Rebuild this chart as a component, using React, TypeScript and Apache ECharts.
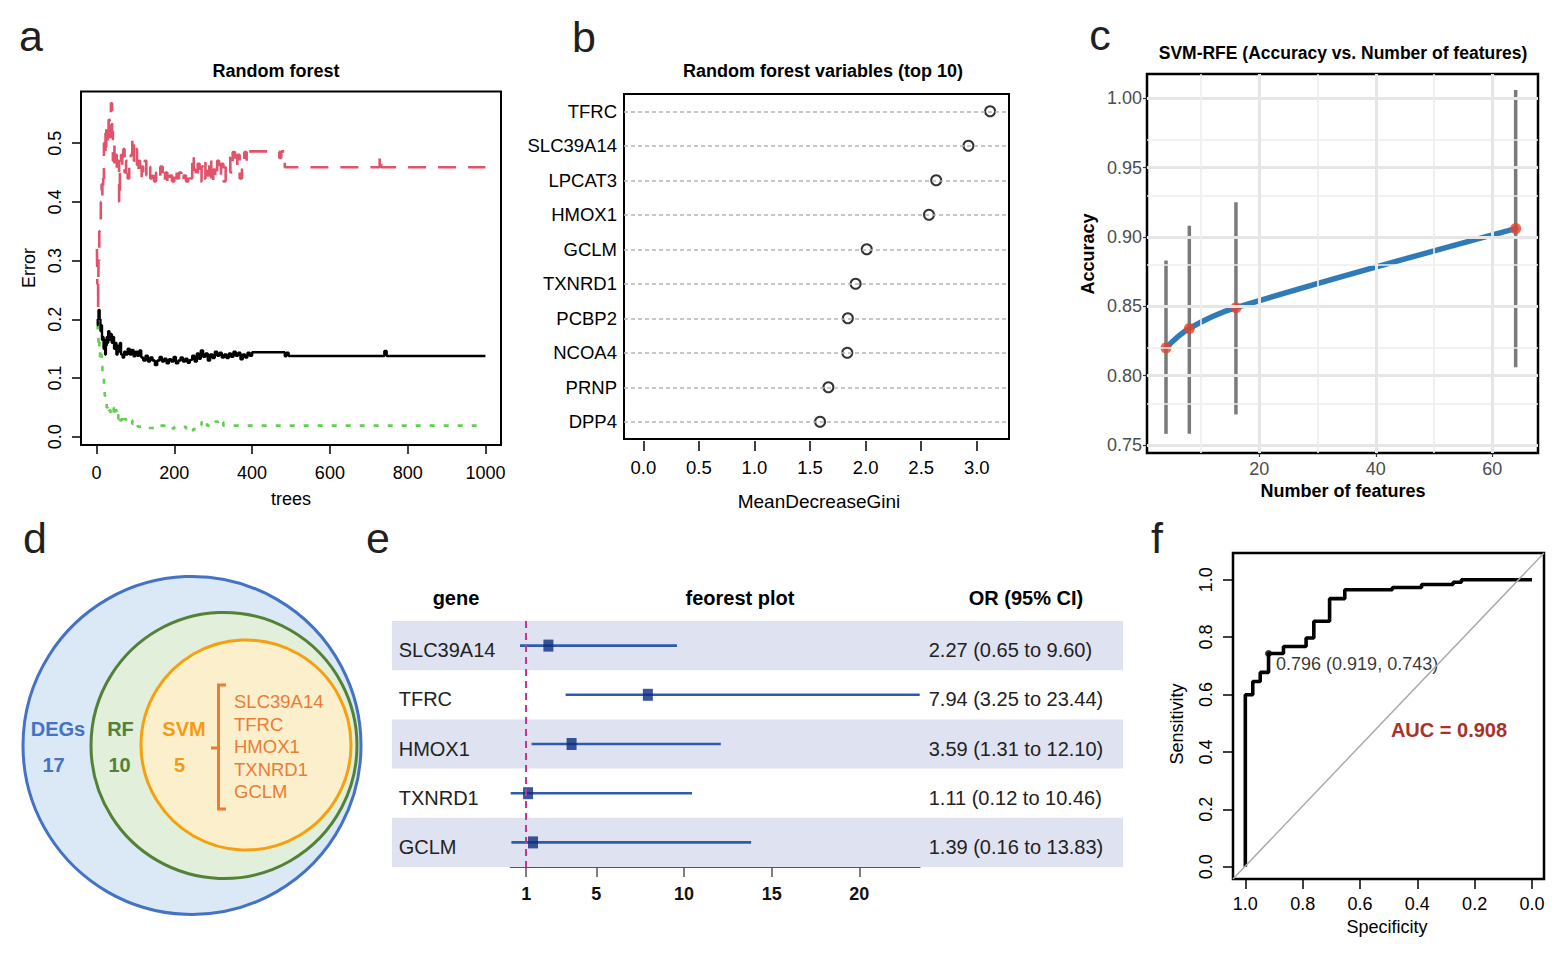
import React, { useEffect, useRef } from "react";
import * as echarts from "echarts";

const FONT = "'Liberation Sans', Arial, Helvetica, sans-serif";

// ---------- a: random forest error vs number of trees (change points [trees, error]) ----------
const treeTicks = [0, 200, 400, 600, 800, 1000];
const errorTicks = [0, 0.1, 0.2, 0.3, 0.4, 0.5];

const oobError = [
  [1, 0.19], [3, 0.2], [5, 0.216], [8, 0.2], [10, 0.18], [12, 0.19], [14, 0.165], [16, 0.17], [18, 0.15],
  [20, 0.165], [22, 0.14], [24, 0.155], [26, 0.17], [28, 0.16], [30, 0.18], [33, 0.165], [36, 0.175],
  [39, 0.16], [42, 0.17], [45, 0.15], [48, 0.16], [51, 0.14], [54, 0.155], [57, 0.145], [60, 0.16],
  [63, 0.14], [67, 0.135], [71, 0.145], [75, 0.14], [80, 0.15], [85, 0.14], [90, 0.148], [95, 0.137],
  [100, 0.145], [105, 0.138], [110, 0.147], [115, 0.135], [120, 0.13], [126, 0.138], [132, 0.128],
  [138, 0.135], [144, 0.13], [150, 0.122], [156, 0.13], [162, 0.136], [168, 0.128], [174, 0.133],
  [180, 0.125], [186, 0.132], [192, 0.128], [198, 0.136], [204, 0.125], [210, 0.13], [216, 0.135],
  [222, 0.128], [228, 0.133], [234, 0.126], [240, 0.131], [246, 0.138], [252, 0.128], [258, 0.142],
  [263, 0.133], [268, 0.147], [274, 0.136], [280, 0.142], [286, 0.13], [292, 0.14], [298, 0.134],
  [304, 0.145], [310, 0.138], [316, 0.143], [322, 0.135], [328, 0.14], [334, 0.134], [340, 0.142],
  [346, 0.136], [352, 0.145], [358, 0.138], [364, 0.143], [370, 0.132], [376, 0.14], [382, 0.135],
  [388, 0.143], [394, 0.138], [400, 0.144], [484, 0.137], [488, 0.143], [494, 0.1375], [740, 0.146],
  [746, 0.1375], [1000, 0.1375],
];

const class1Error = [
  [1, 0.32], [2, 0.26], [4, 0.22], [5, 0.3], [7, 0.35], [9, 0.37], [11, 0.4], [13, 0.43], [15, 0.41],
  [17, 0.44], [19, 0.5], [21, 0.48], [23, 0.53], [25, 0.49], [27, 0.52], [29, 0.5], [31, 0.54], [34, 0.51],
  [37, 0.568], [40, 0.52], [42, 0.47], [44, 0.5], [46, 0.46], [49, 0.48], [52, 0.45], [55, 0.47], [58, 0.4],
  [60, 0.45], [63, 0.48], [66, 0.46], [69, 0.49], [72, 0.45], [76, 0.47], [80, 0.44], [84, 0.46], [88, 0.48],
  [92, 0.51], [96, 0.47], [100, 0.49], [104, 0.45], [108, 0.47], [112, 0.44], [116, 0.46], [120, 0.45],
  [124, 0.47], [128, 0.445], [133, 0.46], [138, 0.44], [143, 0.455], [148, 0.435], [153, 0.45], [158, 0.44],
  [164, 0.46], [170, 0.435], [176, 0.45], [182, 0.43], [188, 0.445], [194, 0.435], [200, 0.455], [206, 0.44],
  [212, 0.45], [218, 0.435], [224, 0.445], [230, 0.435], [236, 0.45], [242, 0.44], [246, 0.48], [250, 0.455],
  [255, 0.44], [260, 0.465], [265, 0.435], [270, 0.46], [275, 0.44], [280, 0.47], [285, 0.445], [290, 0.475],
  [295, 0.43], [300, 0.455], [305, 0.44], [310, 0.47], [315, 0.445], [320, 0.465], [326, 0.435], [332, 0.46],
  [338, 0.475], [344, 0.45], [350, 0.485], [356, 0.46], [362, 0.48], [368, 0.44], [374, 0.47], [380, 0.485],
  [386, 0.47], [392, 0.486], [470, 0.475], [475, 0.486], [484, 0.459], [728, 0.478], [732, 0.459], [1000, 0.459],
];

const class2Error = [
  [1, 0.19], [3, 0.17], [5, 0.15], [7, 0.16], [9, 0.13], [11, 0.14], [13, 0.12], [15, 0.11], [17, 0.1],
  [19, 0.085], [21, 0.07], [23, 0.06], [26, 0.05], [29, 0.055], [32, 0.045], [36, 0.04], [40, 0.05],
  [44, 0.035], [48, 0.045], [52, 0.03], [56, 0.04], [60, 0.028], [65, 0.038], [70, 0.03], [76, 0.025],
  [84, 0.028], [92, 0.022], [100, 0.025], [106, 0.017], [130, 0.015], [150, 0.019], [180, 0.014],
  [200, 0.017], [230, 0.011], [240, 0.009], [248, 0.013], [255, 0.016], [262, 0.02], [270, 0.025],
  [278, 0.028], [284, 0.019], [300, 0.019], [305, 0.026], [312, 0.021], [320, 0.025], [326, 0.019],
  [1000, 0.019],
];

// ---------- b: variable importance ----------
const rfGenes = ["TFRC", "SLC39A14", "LPCAT3", "HMOX1", "GCLM", "TXNRD1", "PCBP2", "NCOA4", "PRNP", "DPP4"];
const rfGini = [3.12, 2.925, 2.635, 2.57, 2.01, 1.91, 1.84, 1.835, 1.665, 1.59];
const giniTicks = [0, 0.5, 1, 1.5, 2, 2.5, 3];

// ---------- c: SVM-RFE ----------
const svmFeatures = [4, 8, 16, 64];
const svmAccuracy = [0.82, 0.834, 0.849, 0.906];
const svmAccLow = [0.758, 0.758, 0.772, 0.806];
const svmAccHigh = [0.883, 0.908, 0.925, 1.006];
const featureTicks = [20, 40, 60];
const featureMinor = [10, 30, 50];
const accuracyTicks = [0.75, 0.8, 0.85, 0.9, 0.95, 1.0];
const accuracyMinor = [0.775, 0.825, 0.875, 0.925, 0.975];

// ---------- d: nested sets ----------
const vennSets = ["DEGs", "RF", "SVM"];
const vennCounts = [17, 10, 5];
const svmGenes = ["SLC39A14", "TFRC", "HMOX1", "TXNRD1", "GCLM"];

// ---------- e: odds ratios ----------
const orGenes = ["SLC39A14", "TFRC", "HMOX1", "TXNRD1", "GCLM"];
const orValue = [2.27, 7.94, 3.59, 1.11, 1.39];
const orLow = [0.65, 3.25, 1.31, 0.12, 0.16];
const orHigh = [9.6, 23.44, 12.1, 10.46, 13.83];
const orTicks = [1, 5, 10, 15, 20];

// ---------- f: ROC ----------
const rocSpec = [1.0, 1.0, 0.974, 0.974, 0.948, 0.948, 0.919, 0.919, 0.867, 0.867, 0.788, 0.788, 0.761, 0.761,
  0.706, 0.706, 0.653, 0.653, 0.487, 0.487, 0.385, 0.385, 0.275, 0.275, 0.246, 0.246, 0.0];
const rocSens = [0.0, 0.599, 0.599, 0.645, 0.645, 0.677, 0.677, 0.743, 0.743, 0.767, 0.767, 0.797, 0.797, 0.855,
  0.855, 0.934, 0.934, 0.965, 0.965, 0.973, 0.973, 0.983, 0.983, 0.991, 0.991, 1.0, 1.0];
const rocCutoff = 0.796;
const rocBestSpec = 0.919;
const rocBestSens = 0.743;
const rocAuc = 0.908;
const rocTicks = [0, 0.2, 0.4, 0.6, 0.8, 1.0];

// axis extents
const F_XMIN = -0.042, F_XMAX = 1.043, F_YMIN = -0.043, F_YMAX = 1.093;

const txt = (x: number, y: number, text: string, o: any = {}) => ({
  type: "text",
  x,
  y,
  rotation: o.rotation || 0,
  z: 100,
  style: {
    text,
    fontFamily: FONT,
    fontSize: o.size || 18,
    fontWeight: o.bold ? "bold" : "normal",
    fill: o.color || "#000",
    align: o.align || "center",
    verticalAlign: "middle",
  },
});

const noMark = { symbol: ["none", "none"], label: { show: false }, silent: true, animation: false };
const hiddenLine = { show: false, onZero: false };

function buildOption(): any {
  const tickStyle = (len: number, color = "#000", width = 1.5, values?: number[]) => ({
    show: true,
    length: len,
    inside: false,
    lineStyle: { color, width },
    ...(values ? { customValues: values } : {}),
  });

  const xAxis: any[] = [
    {
      gridIndex: 0, type: "value", min: -40, max: 1040,
      axisLine: hiddenLine, splitLine: { show: false },
      axisTick: tickStyle(9, "#000", 1.5, treeTicks),
      axisLabel: {
        customValues: treeTicks, margin: 19, fontSize: 18, color: "#000", fontFamily: FONT,
        formatter: (v: number) => String(v),
      },
    },
    {
      gridIndex: 1, type: "value", min: -0.174, max: 3.29, offset: 2,
      axisLine: hiddenLine, splitLine: { show: false },
      axisTick: tickStyle(10, "#000", 1.5, giniTicks),
      axisLabel: {
        customValues: giniTicks, margin: 17, fontSize: 18.5, color: "#000", fontFamily: FONT,
        formatter: (v: number) => v.toFixed(1),
      },
    },
    {
      gridIndex: 2, type: "value", min: 0.74, max: 67.83,
      axisLine: hiddenLine, splitLine: { show: false },
      axisTick: tickStyle(4, "#333", 1.2, featureTicks),
      axisLabel: { customValues: featureTicks, margin: 7, fontSize: 18, color: "#4d4d4d", fontFamily: FONT },
    },
    { gridIndex: 3, type: "value", min: 0, max: 1, show: false },
    {
      gridIndex: 4, type: "value", min: 0.12, max: 23.44,
      axisLine: { show: true, onZero: false, lineStyle: { color: "#555", width: 2 } },
      splitLine: { show: false },
      axisTick: tickStyle(10, "#555", 1.5, orTicks),
      axisLabel: {
        customValues: orTicks, margin: 18, fontSize: 18, fontWeight: "bold", color: "#111", fontFamily: FONT,
      },
    },
    {
      gridIndex: 5, type: "value", min: F_XMIN, max: F_XMAX, inverse: true,
      axisLine: hiddenLine, splitLine: { show: false },
      axisTick: tickStyle(10, "#000", 1.5, rocTicks),
      axisLabel: {
        customValues: rocTicks, margin: 16, fontSize: 18, color: "#000", fontFamily: FONT,
        formatter: (v: number) => v.toFixed(1),
      },
    },
    // text columns of the odds-ratio table
    { gridIndex: 6, type: "value", min: 0, max: 1, show: false },
  ];

  const yAxis: any[] = [
    {
      gridIndex: 0, type: "value", min: -0.014, max: 0.588,
      axisLine: hiddenLine, splitLine: { show: false },
      axisTick: tickStyle(9, "#000", 1.5, errorTicks),
      axisLabel: {
        customValues: errorTicks, rotate: 90, margin: 17, fontSize: 18, color: "#000", fontFamily: FONT,
        formatter: (v: number) => v.toFixed(1),
      },
    },
    {
      gridIndex: 1, type: "category", data: rfGenes, inverse: true,
      axisLine: hiddenLine, axisTick: { show: false }, splitLine: { show: false },
      axisLabel: { interval: 0, margin: 7, fontSize: 18.5, color: "#000", fontFamily: FONT },
    },
    {
      gridIndex: 2, type: "value", min: 0.7442, max: 1.0175,
      axisLine: hiddenLine, splitLine: { show: false },
      axisTick: tickStyle(4, "#333", 1.2, accuracyTicks),
      axisLabel: {
        customValues: accuracyTicks, margin: 5, fontSize: 18, color: "#4d4d4d", fontFamily: FONT,
        formatter: (v: number) => v.toFixed(2),
      },
    },
    { gridIndex: 3, type: "category", data: orGenes, inverse: true, show: false },
    {
      gridIndex: 4, type: "category", data: orGenes, inverse: true, show: false,
    },
    {
      gridIndex: 6, type: "category", data: orGenes, inverse: true,
      axisLine: hiddenLine, axisTick: { show: false }, splitLine: { show: false },
      axisLabel: { interval: 0, margin: 112, align: "left", fontSize: 20, color: "#222", fontFamily: FONT },
    },
    {
      gridIndex: 6, type: "category", position: "right", inverse: true,
      data: orGenes.map((_, i) => `${orValue[i].toFixed(2)} (${orLow[i].toFixed(2)} to ${orHigh[i].toFixed(2)})`),
      axisLine: hiddenLine, axisTick: { show: false }, splitLine: { show: false },
      axisLabel: { interval: 0, margin: 9, align: "left", fontSize: 20, color: "#222", fontFamily: FONT },
    },
    {
      gridIndex: 5, type: "value", min: F_YMIN, max: F_YMAX,
      axisLine: hiddenLine, splitLine: { show: false },
      axisTick: tickStyle(10, "#000", 1.5, rocTicks),
      axisLabel: {
        customValues: rocTicks, rotate: 90, margin: 18, fontSize: 18, color: "#000", fontFamily: FONT,
        formatter: (v: number) => v.toFixed(1),
      },
    },
  ];

  const boxed = (left: number, top: number, width: number, height: number, bw: number) => ({
    left, top, width, height, show: true, borderColor: "#000", borderWidth: bw,
    backgroundColor: "transparent", containLabel: false, outerBoundsMode: "none",
  });
  const plain = (left: number, top: number, width: number, height: number) => ({
    left, top, width, height, show: false, containLabel: false, outerBoundsMode: "none",
  });

  const grid = [
    boxed(81, 91.5, 420, 353.5, 2),
    boxed(624, 94, 385, 345, 2),
    boxed(1147, 74, 391, 379, 2.5),
    plain(392, 621, 731, 246),
    plain(510.7, 621, 409, 246),
    boxed(1233, 553, 311, 326, 2.5),
    plain(510.7, 625.5, 409, 246),
  ];

  const series: any[] = [
    // a
    {
      type: "line", xAxisIndex: 0, yAxisIndex: 0, step: "end", showSymbol: false, data: class1Error,
      lineStyle: { color: "#DF536B", width: 2.6, type: [18, 12] }, z: 3,
    },
    {
      type: "line", xAxisIndex: 0, yAxisIndex: 0, step: "end", showSymbol: false, data: class2Error,
      lineStyle: { color: "#61D04F", width: 2.6, type: [5, 9] }, z: 3,
    },
    {
      type: "line", xAxisIndex: 0, yAxisIndex: 0, step: "end", showSymbol: false, data: oobError,
      lineStyle: { color: "#000", width: 2.4 }, z: 4,
    },
    // b
    {
      type: "line", xAxisIndex: 1, yAxisIndex: 1, data: [], z: 1,
      markLine: {
        ...noMark,
        lineStyle: { color: "#b5b5b5", width: 1.5, type: [4, 3] },
        data: rfGenes.map((_, i) => ({ yAxis: i })),
      },
    },
    {
      type: "scatter", xAxisIndex: 1, yAxisIndex: 1, z: 3,
      data: rfGini.map((v, i) => [v, rfGenes[i]]),
      symbol: "circle", symbolSize: 10,
      itemStyle: { color: "#fff", borderColor: "#000", borderWidth: 2 },
    },
    // c: grid lines
    {
      type: "line", xAxisIndex: 2, yAxisIndex: 2, data: [], z: 0,
      markLine: {
        ...noMark,
        data: [
          ...accuracyTicks.map((v) => ({ yAxis: v, lineStyle: { color: "#e6e6e6", width: 3, type: "solid" } })),
          ...accuracyMinor.map((v) => ({ yAxis: v, lineStyle: { color: "#eeeeee", width: 1.6, type: "solid" } })),
          ...featureTicks.map((v) => ({ xAxis: v, lineStyle: { color: "#e6e6e6", width: 3, type: "solid" } })),
          ...featureMinor.map((v) => ({ xAxis: v, lineStyle: { color: "#eeeeee", width: 1.6, type: "solid" } })),
        ],
      },
    },
    {
      type: "custom", xAxisIndex: 2, yAxisIndex: 2, z: 2,
      data: svmFeatures.map((x, i) => [x, svmAccLow[i], svmAccHigh[i]]),
      encode: { x: 0, y: [1, 2] },
      renderItem: (_p: any, api: any) => {
        const x = api.value(0);
        const a = api.coord([x, api.value(1)]);
        const b = api.coord([x, api.value(2)]);
        return {
          type: "line",
          shape: { x1: a[0], y1: a[1], x2: b[0], y2: b[1] },
          style: { stroke: "#7a7a7a", lineWidth: 3.5 },
        };
      },
    },
    {
      type: "line", xAxisIndex: 2, yAxisIndex: 2, z: 3, smooth: 0.35, showSymbol: false,
      data: svmFeatures.map((x, i) => [x, svmAccuracy[i]]),
      lineStyle: { color: "#2f7bb8", width: 5.5, cap: "round" },
    },
    {
      type: "scatter", xAxisIndex: 2, yAxisIndex: 2, z: 4, symbolSize: 11,
      data: svmFeatures.map((x, i) => [x, svmAccuracy[i]]),
      itemStyle: { color: "#e8432b" },
    },
    // e: row bands
    {
      type: "bar", xAxisIndex: 3, yAxisIndex: 3, z: 0, barWidth: "100%", silent: true,
      data: orGenes.map((_, i) => (i % 2 === 0 ? 1 : 0)),
      itemStyle: { color: "#dfe3f1" },
    },
    {
      type: "custom", xAxisIndex: 4, yAxisIndex: 4, z: 3,
      data: orGenes.map((_, i) => [orLow[i], orHigh[i], i]),
      encode: { x: [0, 1], y: 2 },
      renderItem: (_p: any, api: any) => {
        const row = api.value(2);
        const a = api.coord([api.value(0), row]);
        const b = api.coord([api.value(1), row]);
        return {
          type: "line",
          shape: { x1: a[0], y1: a[1], x2: b[0], y2: b[1] },
          style: { stroke: "#2f5caa", lineWidth: 2.6 },
        };
      },
    },
    {
      type: "scatter", xAxisIndex: 4, yAxisIndex: 4, z: 4,
      data: orValue.map((v, i) => [v, i]),
      symbol: "rect", symbolSize: [10, 12],
      itemStyle: { color: "#0d2c80" },
      markLine: {
        ...noMark,
        lineStyle: { color: "#cc3399", width: 2, type: [7, 5] },
        data: [{ xAxis: 1 }],
      },
    },
    // f
    {
      type: "line", xAxisIndex: 5, yAxisIndex: 7, data: [], z: 1,
      markLine: {
        ...noMark,
        lineStyle: { color: "#aaaaaa", width: 1.5, type: "solid" },
        data: [[{ coord: [F_XMAX, F_YMIN] }, { coord: [F_XMIN, F_YMAX] }]],
      },
    },
    {
      type: "line", xAxisIndex: 5, yAxisIndex: 7, z: 3, showSymbol: false,
      data: rocSpec.map((s, i) => [s, rocSens[i]]),
      lineStyle: { color: "#000", width: 3.6 },
    },
    {
      type: "scatter", xAxisIndex: 5, yAxisIndex: 7, z: 4, symbolSize: 7,
      data: [[rocBestSpec, rocBestSens]],
      itemStyle: { color: "#000" },
      label: {
        show: true, position: "right", distance: 4, offset: [0, 11],
        formatter: () => `${rocCutoff.toFixed(3)} (${rocBestSpec.toFixed(3)}, ${rocBestSens.toFixed(3)})`,
        fontFamily: FONT, fontSize: 18, color: "#000",
      },
    },
  ];

  const venn = [
    { type: "circle", shape: { cx: 192, cy: 745.5, r: 169 }, style: { fill: "#dbe8f5", stroke: "#4472c4", lineWidth: 3 } },
    { type: "circle", shape: { cx: 224, cy: 745.5, r: 133 }, style: { fill: "#e2efda", stroke: "#538135", lineWidth: 3 } },
    { type: "circle", shape: { cx: 246, cy: 745, r: 105 }, style: { fill: "#fcf0cc", stroke: "#f5a00c", lineWidth: 3 } },
    {
      type: "polyline",
      shape: { points: [[226, 685], [218.5, 685], [218.5, 809], [226, 809]] },
      style: { stroke: "#ea7d36", lineWidth: 3, fill: null },
    },
    { type: "line", shape: { x1: 211, y1: 748, x2: 218.5, y2: 748 }, style: { stroke: "#ea7d36", lineWidth: 3 } },
  ];
  const vennColors = ["#4472c4", "#538135", "#f39c12"];
  const vennX = [58, 120.5, 184];
  const vennNumX = [53.5, 119.5, 179.5];

  const graphics: any[] = [
    ...venn,
    ...vennSets.map((s, i) => txt(vennX[i], 729, s, { bold: true, size: 20, color: vennColors[i] })),
    ...vennCounts.map((c, i) => txt(vennNumX[i], 765, String(c), { bold: true, size: 20, color: vennColors[i] })),
    ...svmGenes.map((g, i) => txt(234, 701.5 + i * 22.6, g, { size: 18.5, color: "#ea7d36", align: "left" })),
    // panel letters
    txt(31, 36, "a", { size: 43, color: "#231f20" }),
    txt(584, 37, "b", { size: 43, color: "#231f20" }),
    txt(1100, 35, "c", { size: 43, color: "#231f20" }),
    txt(35, 538, "d", { size: 43, color: "#231f20" }),
    txt(378, 538, "e", { size: 43, color: "#231f20" }),
    txt(1157, 538, "f", { size: 43, color: "#231f20" }),
    // a
    txt(276, 71, "Random forest", { bold: true, size: 18 }),
    txt(29, 268, "Error", { size: 18, rotation: Math.PI / 2 }),
    txt(291, 499, "trees", { size: 18 }),
    // b
    txt(823, 71, "Random forest variables (top 10)", { bold: true, size: 18 }),
    txt(819, 501, "MeanDecreaseGini", { size: 19 }),
    // c
    txt(1343, 53, "SVM-RFE (Accuracy vs. Number of features)", { bold: true, size: 17.5 }),
    txt(1088, 254, "Accuracy", { bold: true, size: 18, rotation: Math.PI / 2 }),
    txt(1343, 491, "Number of features", { bold: true, size: 18 }),
    // e
    txt(456, 598, "gene", { bold: true, size: 20 }),
    txt(740, 598, "feorest plot", { bold: true, size: 20 }),
    txt(1026, 598, "OR (95% CI)", { bold: true, size: 20 }),
    // f
    txt(1177, 724, "Sensitivity", { size: 18, rotation: Math.PI / 2 }),
    txt(1387, 927, "Specificity", { size: 18 }),
    txt(1449, 730, `AUC = ${rocAuc.toFixed(3)}`, { bold: true, size: 20, color: "#a8322a" }),
  ];

  return {
    animation: false,
    backgroundColor: "#fff",
    textStyle: { fontFamily: FONT },
    grid,
    xAxis,
    yAxis,
    series,
    graphic: { elements: graphics },
  };
}

export default function App() {
  const ref = useRef<HTMLDivElement>(null);
  useEffect(() => {
    document.body.style.margin = "0";
    const chart = echarts.init(ref.current!, null, { renderer: "svg" });
    chart.setOption(buildOption());
    return () => chart.dispose();
  }, []);
  return <div ref={ref} style={{ width: 1562, height: 954, background: "#fff" }} />;
}
